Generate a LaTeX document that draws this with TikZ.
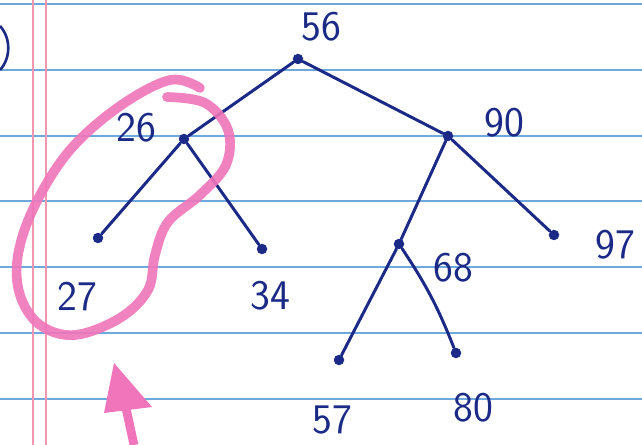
\documentclass[tikz,border=0pt]{standalone}
\usetikzlibrary{positioning}
\definecolor{ink}{HTML}{1B2A86}
\definecolor{rule}{HTML}{6FA8DC}
\definecolor{margin}{HTML}{F096B0}
\definecolor{marker}{HTML}{F075BA}

\begin{document}
\begin{tikzpicture}[x=0.02cm,y=-0.02cm,
  dot/.style={circle,fill=ink,inner sep=0pt,minimum size=0.21cm},
  num/.style={text=ink,font=\fontsize{24}{24}\selectfont\sffamily,inner sep=0pt},
  edge/.style={draw=ink,line width=1.7pt,line cap=round}]

\useasboundingbox[fill=white] (0,0) rectangle (642,445);

%% ruled paper
\foreach \y in {4,70,136,201,267,333,399} {
  \draw[rule,line width=1.2pt] (0,\y) -- (642,\y);
}
\foreach \x in {33,46} {
  \draw[margin,line width=0.7pt] (\x,0) -- (\x,445);
}
\draw[ink,line width=1.5pt] (0,26) .. controls (11,38) and (11,58) .. (0,70);

%% tree nodes
\node[dot] (n56) at (298,59) {};
\node[dot] (n26) at (184,139) {};
\node[dot] (n90) at (448,136) {};
\node[dot] (n27) at (98,238) {};
\node[dot] (n34) at (262,249) {};
\node[dot] (n97) at (554,235) {};
\node[dot] (n68) at (399,244) {};
\node[dot] (n57) at (339,360) {};
\node[dot] (n80) at (456,353) {};

%% labels
\node[num] (l56) at (321,27) {56};
\node[num] (l26) at (136,128) {26};
\node[num] (l90) at (504,123) {90};
\node[num] (l27) at (77,297) {27};
\node[num] (l34) at (270,296) {34};
\node[num] (l97) at (615,245) {97};
\node[num] (l68) at (453,268) {68};
\node[num] (l57) at (332,420) {57};
\node[num] (l80) at (473,408) {80};

%% edges
\foreach \a/\b in {56/26,56/90,26/27,26/34,90/68,90/97,68/57} {
  \draw[edge] (n\a) -- (n\b);
}
\draw[edge] (n68) to[bend left=6] (n80);

%% pink marker
\draw[marker,line width=5.5pt,line cap=round,opacity=0.9] plot[smooth,tension=0.6] coordinates {
  (167,97) (205,103) (228,130) (226,165) (200,195) (168,222) (155,255)
  (148,290) (120,318) (75,335) (40,325) (20,295) (18,255) (35,205)
  (70,150) (120,106) (170,80) (200,88)};
\coordinate (tip) at (114,363);
\coordinate (tail) at (134,445);
\fill[marker] (tip) -- (152,407) -- (104,413) -- cycle;
\draw[marker,line width=5pt] (126,408) -- (tail);
\end{tikzpicture}
\end{document}
